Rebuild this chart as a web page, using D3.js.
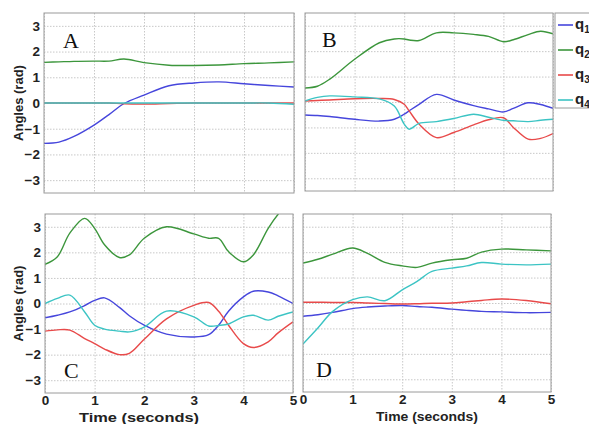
<!DOCTYPE html>
<html>
<head>
<meta charset="utf-8">
<script src="https://cdn.jsdelivr.net/npm/d3@7"></script>
<style>
  body { margin: 0; background: #fff; }
  svg { display: block; font-family: "Liberation Sans", Arial, sans-serif; }
  .grid line { stroke: #c8c8c8; stroke-dasharray: 1.5 1.5; }
  .grid path { display: none; }
  .tick-labels path, .tick-labels line { display: none; }
  .tick-labels text { font-size: 13.5px; font-weight: bold; fill: #222; }
  .frame { fill: none; stroke: #9a9a9a; stroke-width: 1; }
  .aText { font-size: 13px; font-weight: bold; fill: #222; text-anchor: middle; }
  .panelLetter { font-family: "Liberation Serif", "Times New Roman", serif; font-size: 22px; fill: #111; }
</style>
</head>
<body>
<div id="chart"></div>
<script>
// joint angle plots, four trials

var svgWidth = 589;
var svgHeight = 424;

// shared series info
var seriesNames = ["q1", "q2", "q3", "q4"];
var seriesColors = ["#4646dc", "#3c963c", "#e84a4a", "#3cc4c4"];
var xTicks = [0, 1, 2, 3, 4, 5];
var yTicks = [-3, -2, -1, 0, 1, 2, 3];

// panel A
var timeA = [0, 0.3, 0.6, 1, 1.3, 1.6, 2, 2.5, 3, 3.5, 4, 4.5, 5];
var q1A = [-1.57, -1.52, -1.3, -0.86, -0.45, -0.02, 0.31, 0.67, 0.78, 0.82, 0.75, 0.68, 0.62];
var q2A = [1.58, 1.6, 1.62, 1.63, 1.63, 1.71, 1.57, 1.47, 1.46, 1.48, 1.53, 1.56, 1.6];
var q3A = [0, 0, 0, 0, 0, -0.03, -0.04, -0.02, 0, 0, 0, 0, 0];
var q4A = [0, 0, 0, 0, 0, 0, 0, 0, 0, 0, 0, 0, -0.05];

// panel B
var timeB = [0, 0.25, 0.5, 1, 1.5, 1.8, 2, 2.1, 2.3, 2.65, 3, 3.4, 3.7, 4, 4.2, 4.5, 4.75, 5];
var q1B = [-0.51, -0.53, -0.57, -0.68, -0.75, -0.68, -0.48, -0.35, -0.09, 0.3, 0.08, -0.14, -0.27, -0.39, -0.25, -0.03, -0.1, -0.25];
var q2B = [0.55, 0.62, 0.9, 1.68, 2.33, 2.48, 2.48, 2.44, 2.42, 2.72, 2.72, 2.66, 2.58, 2.37, 2.45, 2.65, 2.78, 2.68];
var q3B = [0.04, 0.06, 0.08, 0.13, 0.14, 0.1, -0.09, -0.35, -0.87, -1.4, -1.2, -0.9, -0.7, -0.62, -1.0, -1.46, -1.43, -1.24];
var q4B = [0.04, 0.18, 0.24, 0.2, 0.12, -0.16, -0.87, -1.07, -0.84, -0.77, -0.65, -0.48, -0.6, -0.72, -0.74, -0.77, -0.72, -0.68];

// panel C
var timeC = [0, 0.25, 0.5, 0.8, 1, 1.2, 1.5, 1.7, 2, 2.45, 3, 3.3, 3.5, 3.7, 4, 4.2, 4.5, 4.7, 5];
var q1C = [-0.56, -0.46, -0.33, -0.08, 0.12, 0.22, -0.15, -0.48, -0.85, -1.2, -1.31, -1.22, -0.85, -0.3, 0.26, 0.48, 0.45, 0.3, 0.0];
var q2C = [1.53, 1.83, 2.75, 3.33, 2.94, 2.3, 1.8, 1.9, 2.55, 3.0, 2.72, 2.55, 2.55, 2.03, 1.63, 1.9, 2.94, 3.49, 4.1];
var q3C = [-1.08, -1.03, -1.04, -1.37, -1.57, -1.78, -2.0, -1.95, -1.4, -0.6, -0.07, 0.04, -0.3, -0.85, -1.57, -1.72, -1.5, -1.15, -0.72];
var q4C = [0.0, 0.2, 0.33, -0.33, -0.85, -1.0, -1.08, -1.11, -0.92, -0.3, -0.52, -0.88, -0.86, -0.8, -0.52, -0.46, -0.65, -0.5, -0.33];

// panel D
var timeD = [0, 0.3, 0.6, 1, 1.3, 1.65, 2, 2.3, 2.6, 3, 3.3, 3.6, 4, 4.5, 5];
var q1D = [-0.52, -0.46, -0.37, -0.22, -0.16, -0.12, -0.1, -0.14, -0.17, -0.24, -0.29, -0.33, -0.35, -0.38, -0.37];
var q2D = [1.57, 1.72, 1.92, 2.16, 1.95, 1.6, 1.46, 1.4, 1.57, 1.7, 1.76, 2.0, 2.12, 2.09, 2.05];
var q3D = [0.03, 0.03, 0.02, 0.02, 0.0, -0.02, -0.04, -0.03, -0.01, 0.0, 0.05, 0.1, 0.16, 0.1, -0.03];
var q4D = [-1.61, -0.98, -0.33, 0.13, 0.24, 0.09, 0.52, 0.85, 1.24, 1.37, 1.46, 1.59, 1.53, 1.5, 1.53];

// panel boxes (pixels)
var panels = [
    { letter: "A", time: timeA, series: [q1A, q2A, q3A, q4A], box: [44, 13, 294, 193], yLabels: true, xLabels: false, letterPos: [63, 48] },
    { letter: "B", time: timeB, series: [q1B, q2B, q3B, q4B], box: [305, 13, 553, 191], yLabels: false, xLabels: false, letterPos: [322, 47] },
    { letter: "C", time: timeC, series: [q1C, q2C, q3C, q4C], box: [45, 214, 293, 393], yLabels: true, xLabels: true, letterPos: [64, 378] },
    { letter: "D", time: timeD, series: [q1D, q2D, q3D, q4D], box: [303, 214, 551, 392], yLabels: false, xLabels: true, letterPos: [316, 377] }
];

var svg = d3.select("#chart").append("svg")
    .attr("width", svgWidth)
    .attr("height", svgHeight);

panels.forEach(function (p, i) {
    var w = p.box[2] - p.box[0];
    var h = p.box[3] - p.box[1];

    var g = svg.append("g")
        .attr("transform", `translate(${p.box[0]}, ${p.box[1]})`);

    var xScale = d3.scaleLinear().domain([0, 5]).range([0, w]);
    var yScale = d3.scaleLinear().domain([-3.5, 3.5]).range([h, 0]);

    // grid lines
    g.append("g")
        .attr("class", "grid")
        .call(d3.axisBottom(xScale).tickValues(xTicks).tickSize(h).tickFormat(""));
    g.append("g")
        .attr("class", "grid")
        .call(d3.axisLeft(yScale).tickValues(yTicks).tickSize(-w).tickFormat(""));

    // clip lines to the panel
    g.append("clipPath")
        .attr("id", "clip" + i)
        .append("rect")
        .attr("width", w)
        .attr("height", h);

    var line = d3.line()
        .x((d, k) => xScale(p.time[k]))
        .y(d => yScale(d))
        .curve(d3.curveCatmullRom.alpha(0.5));

    g.append("g")
        .attr("clip-path", `url(#clip${i})`)
        .selectAll("path")
        .data(p.series)
        .enter()
        .append("path")
        .attr("d", d => line(d))
        .attr("fill", "none")
        .attr("stroke", (d, k) => seriesColors[k])
        .attr("stroke-width", 1.4);

    g.append("rect")
        .attr("class", "frame")
        .attr("width", w)
        .attr("height", h);

    if (p.yLabels) {
        g.append("g")
            .attr("class", "tick-labels")
            .call(d3.axisLeft(yScale).tickValues(yTicks).tickSize(0).tickPadding(4).tickFormat(d3.format("d")));

        g.append("text")
            .attr("class", "aText")
            .attr("transform", `translate(${-(p.box[0] - 23)}, ${h / 2}) rotate(-90)`)
            .text("Angles (rad)");
    }

    if (p.xLabels) {
        g.append("g")
            .attr("class", "tick-labels")
            .attr("transform", `translate(0, ${h})`)
            .call(d3.axisBottom(xScale).tickValues(xTicks).tickSize(0).tickPadding(2).tickFormat(d3.format("d")));

        // the source figure is a little wider than tall, so stretch the title
        g.append("text")
            .attr("class", "aText")
            .attr("x", i === 2 ? w / 2 - 30 : w / 2)
            .attr("y", h + 29)
            .attr("textLength", i === 2 ? 120 : 102)
            .attr("lengthAdjust", "spacingAndGlyphs")
            .text("Time (seconds)");
    }

    svg.append("text")
        .attr("class", "panelLetter")
        .attr("x", p.letterPos[0])
        .attr("y", p.letterPos[1])
        .text(p.letter);
});

// legend, sits to the right of panel B
var legend = svg.append("g")
    .attr("transform", "translate(555, 13)");

legend.append("rect")
    .attr("width", 50)
    .attr("height", 95)
    .attr("fill", "#fff")
    .attr("stroke", "#9a9a9a");

var legendItems = legend.selectAll(".item")
    .data(seriesNames)
    .enter()
    .append("g")
    .attr("transform", (d, k) => `translate(0, ${12 + k * 25})`);

legendItems.append("line")
    .attr("x1", 3)
    .attr("x2", 18)
    .attr("stroke", (d, k) => seriesColors[k])
    .attr("stroke-width", 1.6);

var legendText = legendItems.append("text")
    .attr("x", 20)
    .attr("y", 4)
    .attr("font-size", 15)
    .attr("font-weight", "bold")
    .attr("fill", "#222");

legendText.append("tspan").text(d => d[0]);
legendText.append("tspan")
    .attr("dy", 4)
    .attr("font-size", 10)
    .text(d => d.slice(1));
</script>
</body>
</html>
